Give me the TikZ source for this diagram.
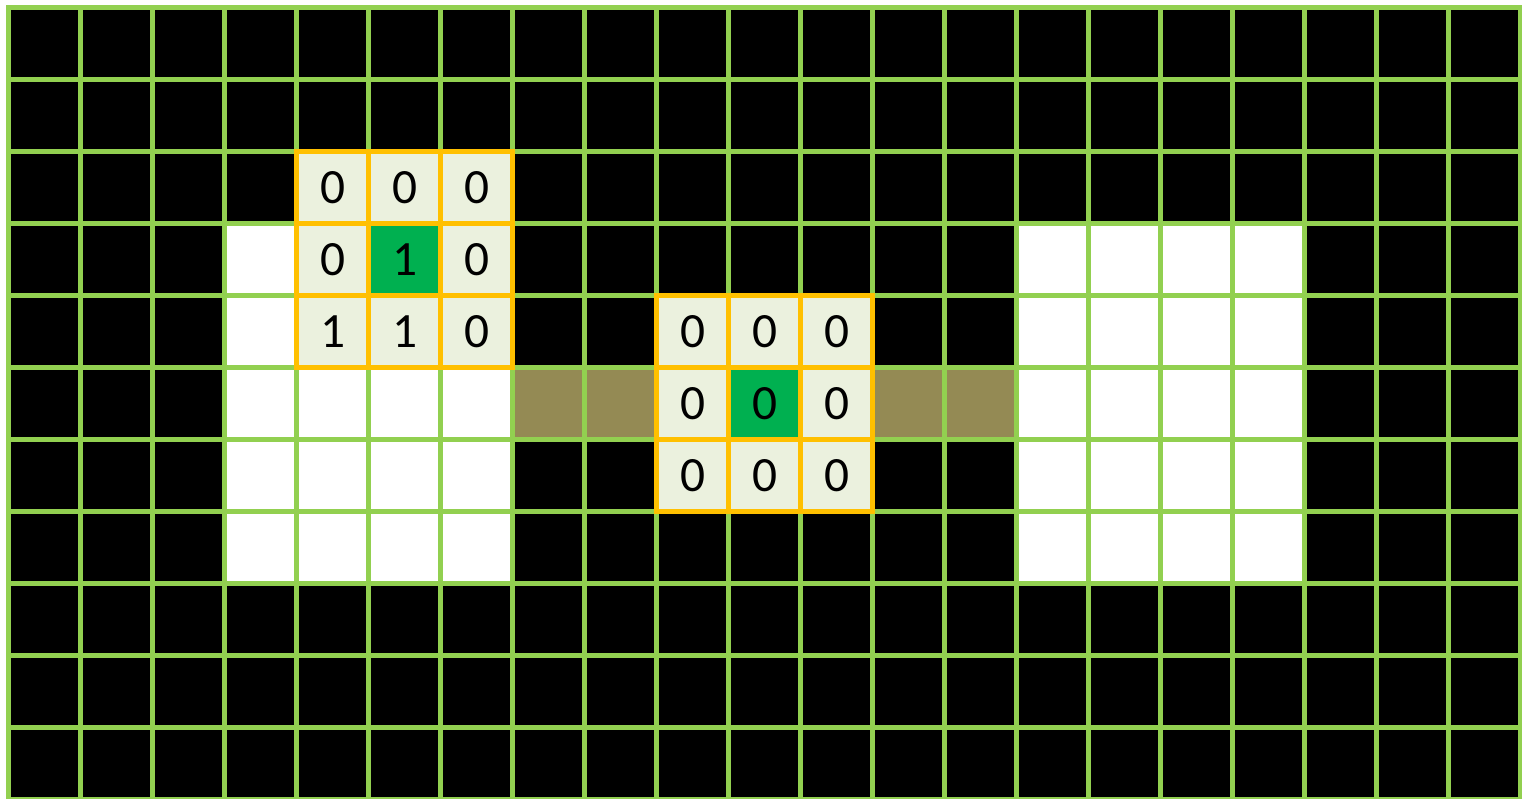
\documentclass[tikz,border=0pt]{standalone}
\usepackage{fontspec}
\setmainfont{Carlito}
\definecolor{gridgreen}{HTML}{92D050}
\definecolor{boxorange}{HTML}{FFC000}
\definecolor{cellpale}{HTML}{EBF1DE}
\definecolor{cellgreen}{HTML}{00B050}
\definecolor{cellbrown}{HTML}{948A54}
\tikzset{
  gridline/.style={draw=gridgreen, line width=3.75pt},
  boxline/.style={draw=boxorange, line width=3.9pt},
  digit/.style={inner sep=0pt, font=\fontsize{37}{44}\selectfont, text=black}
}
\begin{document}
\begin{tikzpicture}[x=0.75pt,y=-0.75pt]
\useasboundingbox (0,0) rectangle (1522,799);
\begin{scope}[xshift=6.375pt, yshift=-5.625pt, x=54pt, y=-54pt]
  % background cells
  \fill[black] (0,0) rectangle (21,11);
  \fill[white] (3,3) rectangle (4,8);
  \fill[white] (4,5) rectangle (7,8);
  \fill[white] (14,3) rectangle (18,8);
  \fill[cellbrown] (7,5) rectangle (9,6);
  \fill[cellbrown] (12,5) rectangle (14,6);
  % windows
  \fill[cellpale] (4,2) rectangle (7,5);
  \fill[cellgreen] (5,3) rectangle (6,4);
  \fill[cellpale] (9,4) rectangle (12,7);
  \fill[cellgreen] (10,5) rectangle (11,6);
  % grid
  \draw[gridline, step=54pt] (0,0) grid (21,11);
  \draw[gridline, line join=miter] (0,0) rectangle (21,11);
  % window borders
  \draw[boxline, step=54pt] (4,2) grid (7,5);
  \draw[boxline, line join=miter] (4,2) rectangle (7,5);
  \draw[boxline, step=54pt] (9,4) grid (12,7);
  \draw[boxline, line join=miter] (9,4) rectangle (12,7);
  % digits, window 1
  \node[digit] (a11) at (4.5,2.5) {0};
  \node[digit] (a12) at (5.5,2.5) {0};
  \node[digit] (a13) at (6.5,2.5) {0};
  \node[digit] (a21) at (4.5,3.5) {0};
  \node[digit] (a22) at (5.5,3.5) {1};
  \node[digit] (a23) at (6.5,3.5) {0};
  \node[digit] (a31) at (4.5,4.5) {1};
  \node[digit] (a32) at (5.5,4.5) {1};
  \node[digit] (a33) at (6.5,4.5) {0};
  % digits, window 2
  \node[digit] (b11) at (9.5,4.5) {0};
  \node[digit] (b12) at (10.5,4.5) {0};
  \node[digit] (b13) at (11.5,4.5) {0};
  \node[digit] (b21) at (9.5,5.5) {0};
  \node[digit] (b22) at (10.5,5.5) {0};
  \node[digit] (b23) at (11.5,5.5) {0};
  \node[digit] (b31) at (9.5,6.5) {0};
  \node[digit] (b32) at (10.5,6.5) {0};
  \node[digit] (b33) at (11.5,6.5) {0};
\end{scope}
\end{tikzpicture}
\end{document}
